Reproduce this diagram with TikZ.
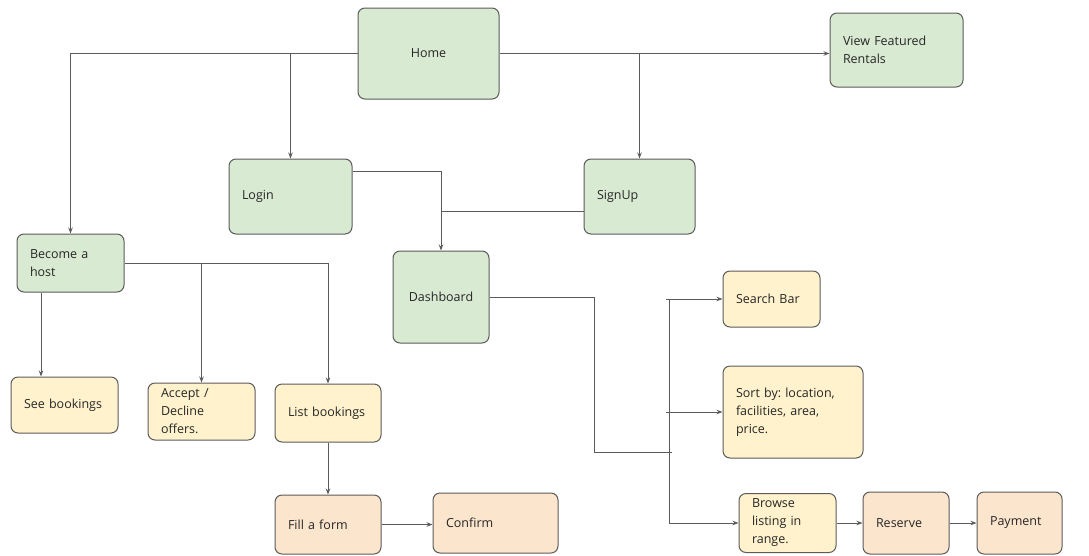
\documentclass[tikz,border=0pt]{standalone}
\usepackage{fontspec}
\setmainfont{Open Sans}
\usepackage{xcolor}
\usepackage{tikz}
\usetikzlibrary{positioning, calc, arrows.meta}
\definecolor{boxgreen}{HTML}{D9EAD3}
\definecolor{boxyellow}{HTML}{FFF2CC}
\definecolor{boxpeach}{HTML}{FCE5CD}
\definecolor{linegray}{HTML}{5B5B5B}
\frenchspacing
\tikzset{
  box/.style={draw=linegray, line width=1pt, rounded corners=7pt, inner xsep=13pt, inner ysep=0pt,
    align=left, font=\fontsize{12.5}{18}\selectfont, text=black!85},
  gbox/.style={box, fill=boxgreen},
  ybox/.style={box, fill=boxyellow},
  pbox/.style={box, fill=boxpeach},
  conn/.style={draw=linegray, line width=1pt},
  arr/.style={conn, -{Stealth[length=6pt,width=4.5pt]}}
}

\begin{document}
\begin{tikzpicture}[x=1pt, y=-1pt]
	\fill[white] (0,0) rectangle (1089,555);
	\useasboundingbox (0,0) rectangle (1089,555);
	
	\node[gbox, align=center, minimum width=141pt, minimum height=91pt] (home) at (428.5,53.5) {Home};
	\node[gbox, text width=107pt, minimum height=74pt] (featured) at (896.5,50) {View Featured\\Rentals};
	\node[gbox, text width=97pt, minimum height=75pt] (login) at (290.5,196.5) {Login};
	\node[gbox, text width=85pt, minimum height=75pt] (signup) at (639.5,196.5) {SignUp};
	\node[gbox, text width=81pt, minimum height=58pt] (host) at (70.5,263) {Become a\\host};
	\node[gbox, align=center, minimum width=96pt, minimum height=92pt] (dash) at (441,297) {Dashboard};
	
	\node[ybox, text width=81pt, minimum height=56pt] (seebook) at (64.5,405) {See bookings};
	\node[ybox, text width=81pt, minimum height=57pt] (accept) at (201.5,411.5) {Accept /\\Decline\\offers.};
	\node[ybox, text width=80pt, minimum height=58pt] (listbook) at (328,413) {List bookings};
	\node[pbox, text width=80pt, minimum height=59pt] (fillform) at (328,524.5) {Fill a form};
	\node[pbox, text width=99pt, minimum height=60pt] (confirm) at (495.5,523) {Confirm};
	
	\node[ybox, text width=71pt, minimum height=56pt] (search) at (771.5,299) {Search Bar};
	\node[ybox, text width=114pt, minimum height=92pt] (sortby) at (793,412) {Sort by: location,\\facilities, area,\\price.};
	\node[ybox, text width=71pt, minimum height=59pt] (browse) at (787.5,523) {Browse\\listing in\\range.};
	\node[pbox, text width=60pt, minimum height=62pt] (reserve) at (906,523) {Reserve};
	\node[pbox, text width=59pt, minimum height=62pt] (payment) at (1019.5,523) {Payment};
	
	\coordinate (bend) at (594,452);
	\coordinate (tk) at (669,452);
	
	\draw[arr] (home.west) -| (host.north);
	\draw[arr] (login.north |- home.west) -- (login.north);
	\draw[arr] (home.east) -- (home.east -| featured.west);
	\draw[arr] (signup.north |- home.east) -- (signup.north);
	\draw[arr] ([yshift=25.5pt]login.east) -| (dash.north);
	\draw[conn] ([yshift=-14.5pt]signup.west) -- ([yshift=-14.5pt]signup.west -| dash.north);
	
	\draw[arr] (host.east) -| (listbook.north);
	\draw[arr] (accept.north |- host.east) -- (accept.north);
	\draw[arr] ([xshift=-29.5pt]host.south) -- ([xshift=-29.5pt]host.south |- seebook.north);
	\draw[arr] (listbook.south) -- (fillform.north);
	\draw[arr] (fillform.east) -- (fillform.east -| confirm.west);
	
	\draw[conn] (dash.east) -| (bend) -- ([xshift=3pt]tk);
	\draw[arr] ([xshift=-3pt]tk |- search.west) -- (search.west);
	\draw[arr] ([xshift=-3pt]tk |- sortby.west) -- (sortby.west);
	\draw[arr] (tk |- search.west) -- (tk |- browse.west) -- (browse.west);
	\draw[arr] (browse.east) -- (reserve.west);
	\draw[arr] (reserve.east) -- (payment.west);
\end{tikzpicture}
\end{document}
